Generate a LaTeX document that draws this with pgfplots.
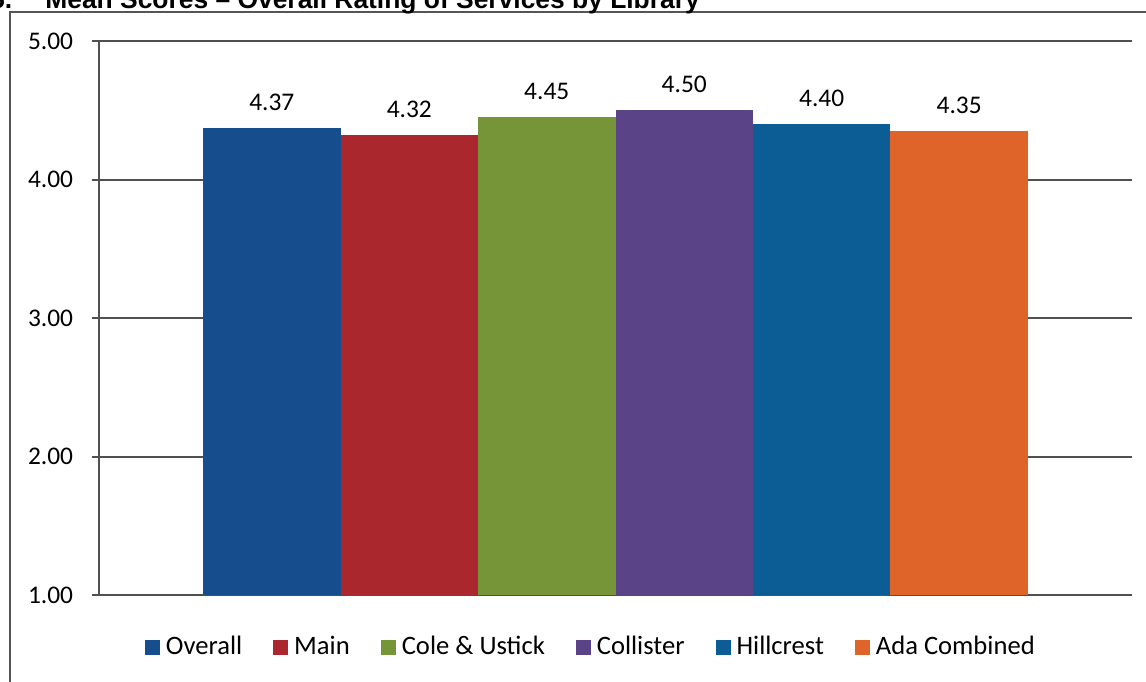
\documentclass[border=0pt]{standalone}
\usepackage{fontspec}
\setmainfont{Carlito}
\newfontfamily\arialfont{Liberation Sans}
\usepackage{pgfplots}
\pgfplotsset{compat=1.18}

\definecolor{cOverall}{RGB}{22,77,140}
\definecolor{cMain}{RGB}{170,40,45}
\definecolor{cCole}{RGB}{118,148,56}
\definecolor{cCollister}{RGB}{90,68,135}
\definecolor{cHillcrest}{RGB}{12,92,150}
\definecolor{cAda}{RGB}{222,100,42}
\definecolor{gridc}{RGB}{80,80,80}
\definecolor{framec}{RGB}{85,85,85}

\newcommand{\lblfont}{\fontsize{12.7}{15}\selectfont}

\pgfplotsset{
  sqlegend/.style={legend image code/.code={%
    \fill[##1,draw=none] (0pt,-3.75pt) rectangle (7.5pt,3.75pt);}},
}

\begin{document}
\begin{tikzpicture}
\useasboundingbox (0pt,0pt) rectangle (573pt,340.5pt);
\begin{scope}
\clip (0pt,0pt) rectangle (573pt,340.5pt);

% outer frame (left and top edges)
\draw[line width=0.8pt, color=framec] (5pt,-2pt) -- (5pt,334.5pt) -- (575pt,334.5pt);

% section heading
\node[anchor=base east, inner sep=0pt, font=\arialfont\bfseries\fontsize{13.2}{15}\selectfont]
  at (6.3pt,336.25pt) {5.};
\node[anchor=base west, inner sep=0pt, font=\arialfont\bfseries\fontsize{13.2}{15}\selectfont]
  at (22.5pt,336.25pt) {Mean Scores – Overall Rating of Services by Library};
\end{scope}

\begin{axis}[
  at={(49.5pt,43pt)}, anchor=south west,
  scale only axis, width=516.5pt, height=277pt,
  xmin=-1.257, xmax=6.257, ymin=1, ymax=5,
  axis x line=none, axis y line*=left,
  y axis line style={-, line width=0.8pt, color=gridc},
  xtick=\empty,
  ytick={1,2,3,4,5},
  ytick pos=left,
  tick align=outside,
  major tick length=3.5pt,
  tick style={line width=1pt, color=gridc},
  ymajorgrids,
  grid style={line width=1pt, color=gridc},
  /pgf/number format/assume math mode=true,
  yticklabel style={font=\lblfont, inner sep=0pt, xshift=-9.25pt,
    /pgf/number format/.cd, fixed, fixed zerofill, precision=2},
  nodes near coords,
  every node near coord/.append style={font=\lblfont, anchor=base, yshift=9pt,
    /pgf/number format/.cd, fixed, fixed zerofill, precision=2},
  legend columns=6,
  legend style={
    at={(axis description cs:0.0445,-0.0939)}, anchor=west,
    draw=none, fill=none, inner sep=0pt, outer sep=0pt,
    font=\fontsize{13.3}{15}\selectfont,
    nodes={inner sep=0pt},
    /tikz/every odd column/.append style={column sep=3pt},
    /tikz/every even column/.append style={column sep=15.5pt},
  },
]
\addplot[ybar, bar shift=0pt, bar width=1, fill=cOverall,   draw=none, sqlegend] coordinates {(0,4.37)};
\addplot[ybar, bar shift=0pt, bar width=1, fill=cMain,      draw=none, sqlegend] coordinates {(1,4.32)};
\addplot[ybar, bar shift=0pt, bar width=1, fill=cCole,      draw=none, sqlegend] coordinates {(2,4.45)};
\addplot[ybar, bar shift=0pt, bar width=1, fill=cCollister, draw=none, sqlegend] coordinates {(3,4.50)};
\addplot[ybar, bar shift=0pt, bar width=1, fill=cHillcrest, draw=none, sqlegend] coordinates {(4,4.40)};
\addplot[ybar, bar shift=0pt, bar width=1, fill=cAda,       draw=none, sqlegend] coordinates {(5,4.35)};
\legend{Overall, Main, Cole \& Ustick, Collister, Hillcrest, Ada Combined}
\end{axis}
\end{tikzpicture}
\end{document}
